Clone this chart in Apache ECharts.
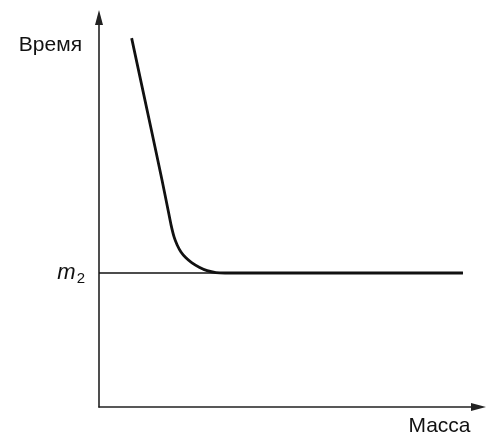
<!DOCTYPE html>
<html><head><meta charset="utf-8">
<script src="https://cdn.jsdelivr.net/npm/echarts@6/dist/echarts.min.js"></script>
<style>html,body{margin:0;padding:0;background:#fff}#c{width:487px;height:438px}</style>
</head><body><div id="c"></div>
<script>
// Schematic data (arbitrary units 0..100 on both axes)
const massCurve = [8.6, 13.8, 16.6, 18.2, 19.0, 19.8, 20.6, 21.6, 22.9, 24.5, 26.4, 28.5, 30.8, 33.2, 95.9];
const timeCurve = [94.7, 71.1, 58.3, 50.6, 46.7, 43.6, 41.6, 39.8, 38.3, 37.0, 35.9, 35.0, 34.5, 34.4, 34.4];
const m2Level = 34.4;
const refLineMass = [0, 95.9];
const xAxisName = 'Масса';
const yAxisName = 'Время';
const yLevelLabel = ['m', '2'];

const font = '"Liberation Sans", Arial, sans-serif';
const chart = echarts.init(document.getElementById('c'), null, {renderer: 'canvas'});
chart.setOption({
  animation: false,
  backgroundColor: '#fff',
  grid: {left: 99, top: 17.5, right: 8.5, bottom: 31, containLabel: false},
  xAxis: {
    type: 'value', min: 0, max: 100,
    name: xAxisName, nameLocation: 'end', nameGap: -8,
    nameTextStyle: {fontFamily: font, fontSize: 21, color: '#111', align: 'right', verticalAlign: 'top', padding: [9, 0, 0, 0]},
    axisLine: {show: true, onZero: false, symbol: ['none', 'triangle'], symbolSize: [8, 15], lineStyle: {color: '#222', width: 1.6}},
    axisTick: {show: false}, axisLabel: {show: false}, splitLine: {show: false}
  },
  yAxis: {
    type: 'value', min: 0, max: 100,
    name: yAxisName, nameLocation: 'end', nameGap: -28,
    nameTextStyle: {fontFamily: font, fontSize: 21, color: '#111', align: 'right', verticalAlign: 'middle', padding: [0, 17, 0, 0]},
    axisLine: {show: true, onZero: false, symbol: ['none', 'triangle'], symbolSize: [8, 15], lineStyle: {color: '#222', width: 1.6}},
    axisTick: {show: false}, splitLine: {show: false},
    axisLabel: {
      show: true, customValues: [m2Level], margin: 14,
      formatter: () => '{m|' + yLevelLabel[0] + '}{s|' + yLevelLabel[1] + '}',
      rich: {
        m: {fontFamily: font, fontSize: 22, fontStyle: 'italic', color: '#111'},
        s: {fontFamily: font, fontSize: 15, color: '#111', padding: [12, 0, 0, 1]}
      }
    }
  },
  series: [
    {
      type: 'line', data: refLineMass.map(x => [x, m2Level]),
      symbol: 'none', lineStyle: {color: '#111', width: 1.3}, z: 2
    },
    {
      type: 'line', data: massCurve.map((x, i) => [x, timeCurve[i]]),
      symbol: 'none', smooth: 0.15, lineStyle: {color: '#111', width: 2.8, join: 'round'}, z: 3
    }
  ]
});
</script></body></html>
